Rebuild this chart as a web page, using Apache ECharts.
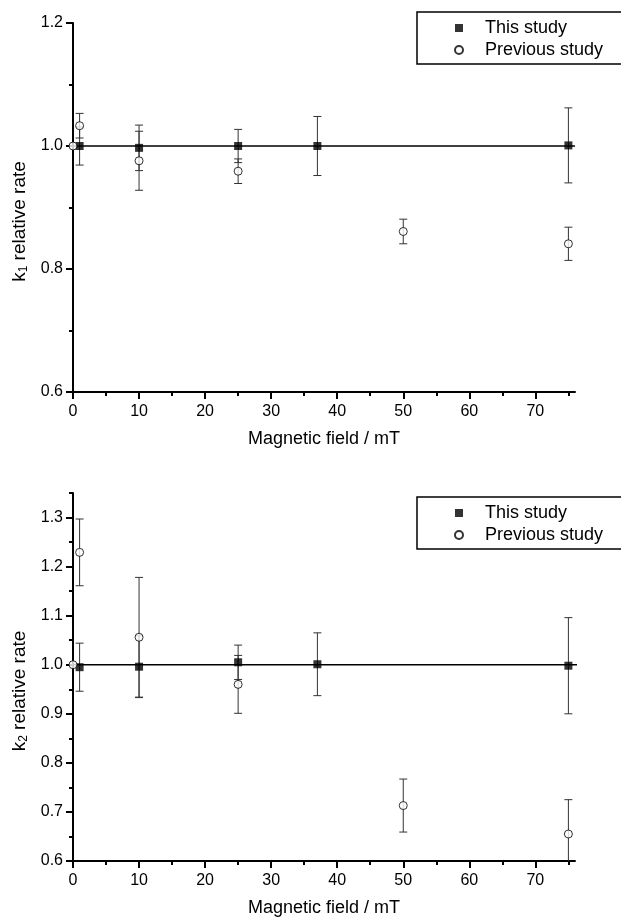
<!DOCTYPE html>
<html lang="en">
<head>
    <meta charset="UTF-8">
    <title>Relative rate vs magnetic field</title>
    <script src="https://cdn.jsdelivr.net/npm/echarts@6/dist/echarts.min.js"></script>
    <style>
        body { margin: 0; padding: 0; background: #fff; }
        #chart { width: 621px; height: 918px; }
    </style>
</head>
<body>
    <div id="chart"></div>
    <script>
        // tick positions / labels
        var xMajor = [0, 10, 20, 30, 40, 50, 60, 70];
        var xMinor = [5, 15, 25, 35, 45, 55, 65, 75];
        var y1Major = [0.6, 0.8, 1.0, 1.2];
        var y1Minor = [0.7, 0.9, 1.1];
        var y2Major = [0.6, 0.7, 0.8, 0.9, 1.0, 1.1, 1.2, 1.3];
        var y2Minor = [0.65, 0.75, 0.85, 0.95, 1.05, 1.15, 1.25, 1.35];

        // k1 panel
        var k1ThisX = [1, 10, 25, 37, 75];
        var k1ThisY = [1.000, 0.997, 1.000, 1.000, 1.001];
        var k1ThisErr = [0.031, 0.037, 0.027, 0.048, 0.061];
        var k1PrevX = [0, 1, 10, 25, 50, 75];
        var k1PrevY = [1.000, 1.033, 0.976, 0.959, 0.861, 0.841];
        var k1PrevErr = [0, 0.020, 0.048, 0.020, 0.020, 0.027];
        var k1LineX = [0, 76];
        var k1LineY = [1.0, 1.0];

        // k2 panel
        var k2ThisX = [1, 10, 25, 37, 75];
        var k2ThisY = [0.995, 0.996, 1.005, 1.001, 0.998];
        var k2ThisErr = [0.049, 0.063, 0.035, 0.064, 0.098];
        var k2PrevX = [0, 1, 10, 25, 50, 75];
        var k2PrevY = [1.000, 1.229, 1.056, 0.960, 0.713, 0.655];
        var k2PrevErr = [0, 0.068, 0.122, 0.059, 0.054, 0.070];
        var k2LineX = [0, 78];
        var k2LineY = [1.0, 1.0];

        var FONT = '"Liberation Sans", Arial, sans-serif';

        function pts(xs, ys) {
            return xs.map(function (x, i) { return [x, ys[i]]; });
        }
        function errPts(xs, ys, es) {
            var out = [];
            xs.forEach(function (x, i) {
                if (es[i] > 0) out.push([x, ys[i] - es[i], ys[i] + es[i]]);
            });
            return out;
        }

        function errorBars(name, data, axisIdx) {
            return {
                name: name,
                type: 'custom',
                xAxisIndex: axisIdx,
                yAxisIndex: axisIdx,
                clip: true,
                z: 1,
                silent: true,
                data: data,
                renderItem: function (params, api) {
                    var x = api.value(0);
                    var lo = api.coord([x, api.value(1)]);
                    var hi = api.coord([x, api.value(2)]);
                    var w = 4;
                    var st = { stroke: '#333', lineWidth: 1 };
                    return {
                        type: 'group',
                        children: [
                            { type: 'line', shape: { x1: lo[0], y1: lo[1], x2: hi[0], y2: hi[1] }, style: st },
                            { type: 'line', shape: { x1: lo[0] - w, y1: lo[1], x2: lo[0] + w, y2: lo[1] }, style: st },
                            { type: 'line', shape: { x1: hi[0] - w, y1: hi[1], x2: hi[0] + w, y2: hi[1] }, style: st }
                        ]
                    };
                }
            };
        }

        function mainX(gridIdx) {
            return {
                type: 'value', gridIndex: gridIdx, min: 0, max: 76, position: 'bottom',
                name: 'Magnetic field / mT', nameLocation: 'middle', nameGap: 38,
                nameTextStyle: { fontFamily: FONT, fontSize: 18, color: '#000' },
                axisLine: { onZero: false, lineStyle: { color: '#000', width: 2 } },
                axisTick: { customValues: xMajor, length: 7, lineStyle: { color: '#000', width: 2 } },
                axisLabel: { customValues: xMajor, margin: 12, fontFamily: FONT, fontSize: 16, color: '#000' },
                splitLine: { show: false }
            };
        }
        function minorX(gridIdx) {
            return {
                type: 'value', gridIndex: gridIdx, min: 0, max: 76, position: 'bottom',
                axisLine: { show: false, onZero: false },
                axisTick: { customValues: xMinor, length: 4, lineStyle: { color: '#000', width: 2 } },
                axisLabel: { show: false },
                splitLine: { show: false }
            };
        }
        function mainY(gridIdx, max, major, sub) {
            return {
                type: 'value', gridIndex: gridIdx, min: 0.6, max: max, position: 'left',
                name: '{a|k}{s|' + sub + '}{a| relative rate}', nameLocation: 'middle', nameGap: 42,
                nameTextStyle: {
                    padding: [0, 28, 0, 0],
                    rich: {
                        a: { fontFamily: FONT, fontSize: 19, color: '#000' },
                        s: { fontFamily: FONT, fontSize: 12, color: '#000', padding: [9, 0, 0, 0] }
                    }
                },
                axisLine: { onZero: false, lineStyle: { color: '#000', width: 2 } },
                axisTick: { customValues: major, length: 7, lineStyle: { color: '#000', width: 2 } },
                axisLabel: {
                    customValues: major, margin: 10, fontFamily: FONT, fontSize: 16, color: '#000',
                    formatter: function (v) { return v.toFixed(1); }
                },
                splitLine: { show: false }
            };
        }
        function minorY(gridIdx, max, minor) {
            return {
                type: 'value', gridIndex: gridIdx, min: 0.6, max: max, position: 'left',
                axisLine: { show: false, onZero: false },
                axisTick: { customValues: minor, length: 4, lineStyle: { color: '#000', width: 2 } },
                axisLabel: { show: false },
                splitLine: { show: false }
            };
        }

        function panelSeries(axisIdx, thisX, thisY, thisErr, prevX, prevY, prevErr, lineX, lineY) {
            return [
                errorBars('err-this-' + axisIdx, errPts(thisX, thisY, thisErr), axisIdx),
                errorBars('err-prev-' + axisIdx, errPts(prevX, prevY, prevErr), axisIdx),
                {
                    name: 'fit', type: 'line', xAxisIndex: axisIdx, yAxisIndex: axisIdx,
                    data: pts(lineX, lineY), showSymbol: false, clip: false, silent: true, z: 2,
                    lineStyle: { color: '#000', width: 1.6 }
                },
                {
                    name: 'This study', type: 'scatter', xAxisIndex: axisIdx, yAxisIndex: axisIdx,
                    data: pts(thisX, thisY), symbol: 'rect', symbolSize: 8, z: 3,
                    itemStyle: { color: '#000' }
                },
                {
                    name: 'Previous study', type: 'scatter', xAxisIndex: axisIdx, yAxisIndex: axisIdx,
                    data: pts(prevX, prevY), symbol: 'circle', symbolSize: 8, z: 3,
                    itemStyle: { color: '#fff', borderColor: '#000', borderWidth: 1 }
                }
            ];
        }

        function legendAt(top) {
            return {
                left: 417, top: top, orient: 'vertical',
                data: [{ name: 'This study', icon: 'rect' }, { name: 'Previous study', icon: 'circle' }],
                itemWidth: 8, itemHeight: 8, itemGap: 4,
                padding: [7, 30, 5, 37],
                borderColor: '#000', borderWidth: 1.5,
                selectedMode: false,
                formatter: function (n) { return '{t|' + n + '}'; },
                textStyle: {
                    rich: { t: { fontFamily: FONT, fontSize: 18, lineHeight: 22, color: '#000', padding: [0, 0, 0, 17] } }
                }
            };
        }

        var myChart = echarts.init(document.getElementById('chart'), null, { renderer: 'canvas' });

        myChart.setOption({
            backgroundColor: '#fff',
            animation: false,
            legend: [legendAt(12), legendAt(497)],
            grid: [
                { left: 73, top: 23, width: 502, height: 369 },
                { left: 73, top: 493, width: 502, height: 371 }
            ],
            xAxis: [mainX(0), minorX(0), mainX(1), minorX(1)],
            yAxis: [
                mainY(0, 1.2, y1Major, '1'), minorY(0, 1.2, y1Minor),
                mainY(1, 1.35, y2Major, '2'), minorY(1, 1.35, y2Minor)
            ],
            series: [].concat(
                panelSeries(0, k1ThisX, k1ThisY, k1ThisErr, k1PrevX, k1PrevY, k1PrevErr, k1LineX, k1LineY),
                panelSeries(2, k2ThisX, k2ThisY, k2ThisErr, k2PrevX, k2PrevY, k2PrevErr, k2LineX, k2LineY)
            )
        });
    </script>
</body>
</html>
